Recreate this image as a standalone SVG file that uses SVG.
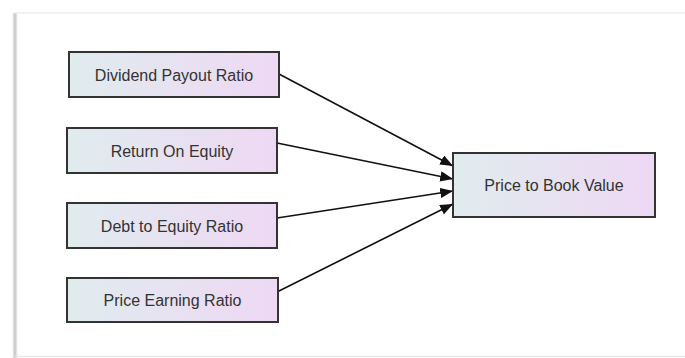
<svg xmlns="http://www.w3.org/2000/svg" width="685" height="358" viewBox="0 0 685 358">
  <defs>
    <linearGradient id="nodeFill" x1="0" y1="0" x2="1" y2="0">
      <stop offset="0" stop-color="#e0ecee"/>
      <stop offset="1" stop-color="#eed8f4"/>
    </linearGradient>
    <linearGradient id="shadowL" x1="0" y1="0" x2="1" y2="0">
      <stop offset="0" stop-color="#ffffff"/>
      <stop offset="0.5" stop-color="#c4c4c4"/>
      <stop offset="1" stop-color="#ffffff"/>
    </linearGradient>
    <marker id="arrow" viewBox="0 0 10 10" refX="10" refY="5" markerWidth="8" markerHeight="6.5" markerUnits="strokeWidth" orient="auto" preserveAspectRatio="none">
      <path d="M0,0 L10,5 L0,10 z" fill="#111"/>
    </marker>
  </defs>
  <style>
    .node rect { fill: url(#nodeFill); stroke: #333; stroke-width: 2; }
    .node text { font-family: "Liberation Sans", Arial, sans-serif; font-size: 16px; fill: #333; text-anchor: middle; }
    .edge { stroke: #111; stroke-width: 1.6; fill: none; marker-end: url(#arrow); }
  </style>
  <rect x="0" y="0" width="685" height="358" fill="#ffffff"/>
  <g id="frame">
    <rect x="12" y="13" width="6" height="345" fill="url(#shadowL)"/>
    <line x1="15" y1="13" x2="685" y2="13" stroke="#ececec" stroke-width="1.5"/>
    <line x1="15" y1="356.5" x2="685" y2="356.5" stroke="#e6e6e6" stroke-width="1.5"/>
  </g>
  <g id="connectors">
    <line class="edge" x1="279" y1="74" x2="453" y2="166"/>
    <line class="edge" x1="277" y1="143" x2="453" y2="179"/>
    <line class="edge" x1="277" y1="218" x2="453" y2="191"/>
    <line class="edge" x1="277" y1="292" x2="453" y2="204"/>
  </g>
  <g id="node-dividend" class="node">
    <rect x="69" y="52" width="210" height="45"/>
    <text x="174" y="80.5">Dividend Payout Ratio</text>
  </g>
  <g id="node-roe" class="node">
    <rect x="67" y="128" width="210" height="45"/>
    <text x="172" y="156.5">Return On Equity</text>
  </g>
  <g id="node-de" class="node">
    <rect x="67" y="203" width="210" height="45"/>
    <text x="172" y="231.5">Debt to Equity Ratio</text>
  </g>
  <g id="node-pe" class="node">
    <rect x="67" y="278" width="211" height="44"/>
    <text x="172.5" y="305.5">Price Earning Ratio</text>
  </g>
  <g id="node-pbv" class="node">
    <rect x="453" y="153" width="202" height="64"/>
    <text x="554" y="190.5">Price to Book Value</text>
  </g>
</svg>
